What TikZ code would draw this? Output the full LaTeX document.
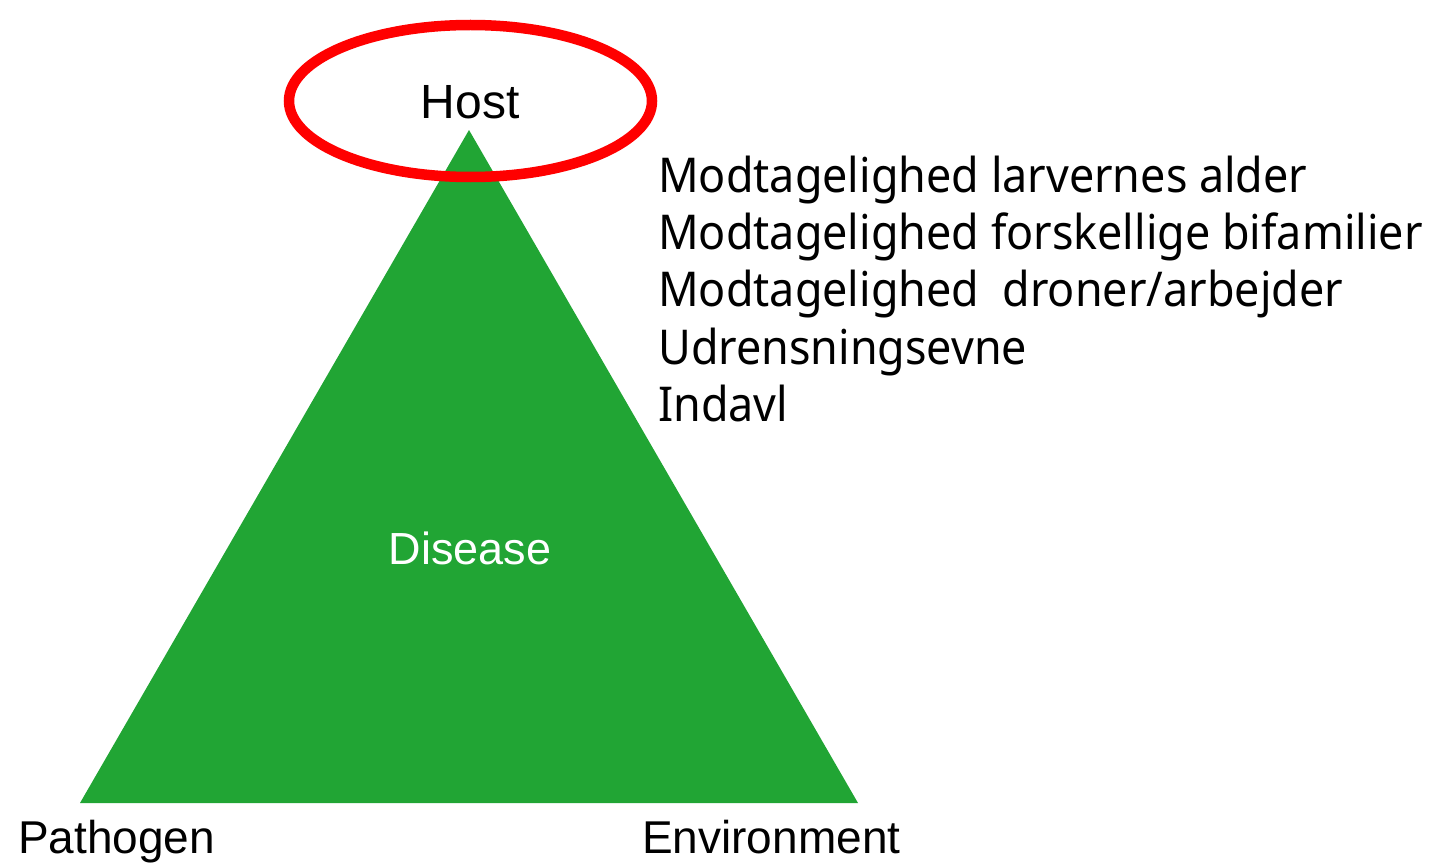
\documentclass[tikz,border=0pt]{standalone}
\usepackage{fontspec}
\setmainfont{Liberation Sans}
\newfontfamily\listfont[FakeStretch=0.935]{Noto Sans}
\definecolor{trigreen}{RGB}{33,165,52}
\definecolor{ringred}{RGB}{255,0,0}
\begin{document}
\begin{tikzpicture}[x=1pt,y=-1pt,
  label/.style={inner sep=0pt,font=\fontsize{46}{50}\selectfont},
  item/.style={inner sep=0pt,anchor=base west,font=\listfont\fontsize{48}{56}\selectfont}]
\useasboundingbox (0,0) rectangle (1439,864);
\coordinate (apex) at (469,130);
\coordinate (bl) at (80,803);
\coordinate (br) at (858,803);
\fill[trigreen] (apex) -- (bl) -- (br) -- cycle;
\draw[ringred,line width=10.5pt] (470.5,101) ellipse [x radius=181.5, y radius=76];
\node[label,anchor=base,font=\fontsize{48}{52}\selectfont] (host) at (470,118) {Host};
\node[label,anchor=base,text=white,font=\fontsize{45}{50}\selectfont] (disease) at (470,564) {Disease};
\node[label,anchor=base west] (pathogen) at (18,853) {Pathogen};
\node[label,anchor=base west] (env) at (642,853) {Environment};
\node[item] (i1) at (658,192) {Modtagelighed larvernes alder};
\node[item] (i2) at (658,249) {Modtagelighed forskellige bifamilier};
\node[item] (i3) at (658,306) {Modtagelighed\ \ droner/arbejder};
\node[item] (i4) at (658,364) {Udrensningsevne};
\node[item] (i5) at (658,421) {Indavl};
\end{tikzpicture}
\end{document}
